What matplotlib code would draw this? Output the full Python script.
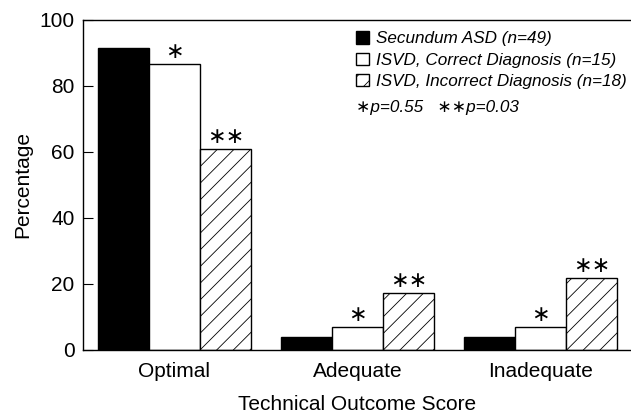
import matplotlib
matplotlib.use("Agg")
import matplotlib.pyplot as plt
import numpy as np
from matplotlib.patches import Patch

categories = ["Optimal", "Adequate", "Inadequate"]
series_names = ["Secundum ASD (n=49)", "ISVD, Correct Diagnosis (n=15)", "ISVD, Incorrect Diagnosis (n=18)"]
secundum = [91.6, 4.0, 4.0]
isvd_correct = [86.8, 6.9, 6.9]
isvd_incorrect = [60.8, 17.2, 21.9]
marks = ["", "\u2217", "\u2217\u2217"]
yticks = [0, 20, 40, 60, 80, 100]

plt.rcParams['font.family'] = ['Liberation Sans', 'DejaVu Sans']
plt.rcParams['hatch.linewidth'] = 0.6

fig = plt.figure(figsize=(6.31, 4.19), dpi=100)
ax = fig.add_axes([0.1315, 0.1647, 0.87, 0.7876])

x = np.arange(len(categories))
w = 0.28
styles = [dict(color="black", edgecolor="black"),
          dict(color="white", edgecolor="black"),
          dict(color="white", edgecolor="black", hatch="//")]
data = [secundum, isvd_correct, isvd_incorrect]
for i, (vals, st) in enumerate(zip(data, styles)):
    xs = x + (i - 1) * w
    ax.bar(xs, vals, width=w, linewidth=1.0, **st)
    if marks[i]:
        for xx, v in zip(xs, vals):
            ax.text(xx, v + 0.6, marks[i], ha="center", va="bottom",
                    fontsize=16, family="DejaVu Sans", color="black")

ax.set_xlim(-0.5, 2.5)
ax.set_ylim(0, 100)
ax.set_yticks(yticks)
ax.set_xticks(x)
ax.set_xticklabels(categories, fontsize=15)
ax.tick_params(axis="y", direction="in", length=7, labelsize=15, pad=6)
ax.tick_params(axis="x", length=0, pad=9)
ax.spines["right"].set_visible(False)
for s in ["left", "top", "bottom"]:
    ax.spines[s].set_linewidth(1.0)
ax.set_ylabel("Percentage", fontsize=15, labelpad=5)
ax.set_xlabel("Technical Outcome Score", fontsize=15, labelpad=10)

handles = [Patch(facecolor="black", edgecolor="black"),
           Patch(facecolor="white", edgecolor="black"),
           Patch(facecolor="white", edgecolor="black", hatch="//")]
leg = ax.legend(handles, series_names, loc="upper left", bbox_to_anchor=(0.497, 0.966),
                frameon=False, prop={"style": "italic", "size": 12.3},
                borderaxespad=0, borderpad=0,
                handlelength=0.75, handleheight=0.75, handletextpad=0.45, labelspacing=0.36)
ax.text(0.498, 0.734, "\u2217p=0.55   \u2217\u2217p=0.03", transform=ax.transAxes,
        fontsize=12.3, style="italic", va="center",
        family=["Liberation Sans", "DejaVu Sans"])

fig.savefig("out.png", dpi=100)
